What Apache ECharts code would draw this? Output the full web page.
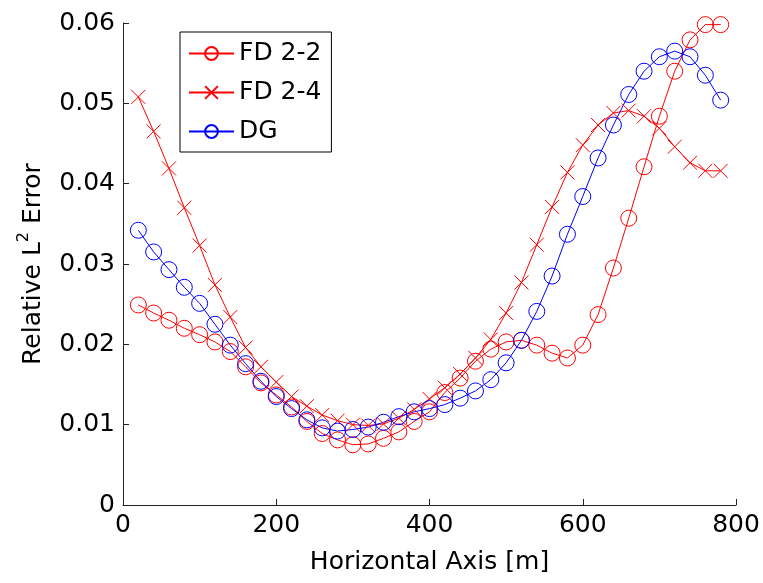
<!DOCTYPE html>
<html>
<head>
<meta charset="utf-8">
<script src="https://cdn.jsdelivr.net/npm/echarts@6/dist/echarts.min.js"></script>
<style>html,body{margin:0;padding:0;background:#fff}#c{width:763px;height:583px}</style>
</head>
<body>
<div id="c"></div>
<script>
const xPositions = [20,40,60,80,100,120,140,160,180,200,220,240,260,280,300,320,340,360,380,400,420,440,460,480,500,520,540,560,580,600,620,640,660,680,700,720,740,760,780];
const fd22 = [0.0249,0.0239,0.0230,0.0220,0.0212,0.0203,0.0191,0.0172,0.0152,0.0137,0.0122,0.0104,0.0089,0.0081,0.0075,0.0076,0.0083,0.0091,0.0104,0.0116,0.0140,0.0158,0.0179,0.0194,0.0203,0.0205,0.0199,0.0189,0.0183,0.0199,0.0237,0.0295,0.0357,0.0421,0.0484,0.0540,0.0579,0.0598,0.0598];
const fd24 = [0.0508,0.0465,0.0419,0.0370,0.0323,0.0274,0.0234,0.0196,0.0172,0.0153,0.0135,0.0123,0.0112,0.0105,0.0100,0.0099,0.0101,0.0108,0.0119,0.0132,0.0146,0.0163,0.0183,0.0206,0.0239,0.0277,0.0324,0.0371,0.0414,0.0448,0.0473,0.0488,0.0491,0.0484,0.0469,0.0446,0.0426,0.0416,0.0416];
const dg = [0.0342,0.0315,0.0293,0.0271,0.0251,0.0225,0.0199,0.0176,0.0154,0.0135,0.0120,0.0106,0.0096,0.0092,0.0094,0.0097,0.0103,0.0110,0.0116,0.0120,0.0125,0.0133,0.0142,0.0156,0.0177,0.0205,0.0241,0.0285,0.0337,0.0384,0.0432,0.0473,0.0511,0.0540,0.0558,0.0565,0.0558,0.0535,0.0504];
const seriesNames = ['FD 2-2','FD 2-4','DG'];
const xTitle = 'Horizontal Axis [m]';

const FONT = 'DejaVu Sans';
const pairs = arr => xPositions.map((x,i)=>[x, arr[i]]);
const crossPath = 'path://M0,0L10,10M10,0L0,10';

function mkSeries(name, arr, color, symbol, size){
  return {
    name, type:'line', data: pairs(arr),
    symbol, symbolSize: size, showAllSymbol: true,
    color: color,
    lineStyle: {color: color, width: 1},
    itemStyle: {color: 'rgba(0,0,0,0)', borderColor: color, borderWidth: 1},
    emphasis: {disabled: true},
    z: 2
  };
}

const chart = echarts.init(document.getElementById('c'), null, {renderer:'canvas'});
chart.setOption({
  animation: false,
  backgroundColor: '#fff',
  textStyle: {fontFamily: FONT},
  grid: {left: 123, top: 23, right: 27, bottom: 78, containLabel: false, outerBoundsMode: 'none'},
  legend: {
    orient: 'vertical', left: 180, top: 32,
    padding: [9, 10, 8, 8], itemGap: 14,
    itemWidth: 45, itemHeight: 16,
    borderColor: '#000', borderWidth: 1, backgroundColor: '#fff',
    textStyle: {fontFamily: FONT, fontSize: 25, color: '#000'},
    data: seriesNames
  },
  xAxis: {
    type: 'value', min: 0, max: 800, interval: 200,
    name: xTitle, nameLocation: 'middle', nameGap: 45,
    nameTextStyle: {fontFamily: FONT, fontSize: 25, color: '#000'},
    axisLine: {show: true, lineStyle: {color: '#222', width: 1}},
    axisTick: {show: true, inside: true, length: 6, lineStyle: {color: '#222'}},
    axisLabel: {margin: 8, fontFamily: FONT, fontSize: 25, color: '#000'},
    splitLine: {show: false}
  },
  yAxis: {
    type: 'value', min: 0, max: 0.06, interval: 0.01,
    name: 'Relative L{sup|2} Error', nameLocation: 'middle', nameGap: 72, nameRotate: 90,
    nameTextStyle: {
      fontFamily: FONT, fontSize: 25, color: '#000',
      rich: {
        sup: {fontFamily: FONT, fontSize: 16, color: '#000', verticalAlign: 'bottom', padding: [0,0,19,0]}
      }
    },
    axisLine: {show: true, lineStyle: {color: '#222', width: 1}},
    axisTick: {show: true, inside: true, length: 6, lineStyle: {color: '#222'}},
    axisLabel: {margin: 8, fontFamily: FONT, fontSize: 25, color: '#000',
      formatter: v => String(Math.round(v*100)/100)},
    splitLine: {show: false}
  },
  series: [
    mkSeries(seriesNames[0], fd22, '#ff0000', 'circle', 16),
    mkSeries(seriesNames[1], fd24, '#ff0000', crossPath, 14),
    mkSeries(seriesNames[2], dg, '#0000ff', 'circle', 16)
  ]
});
</script>
</body>
</html>
